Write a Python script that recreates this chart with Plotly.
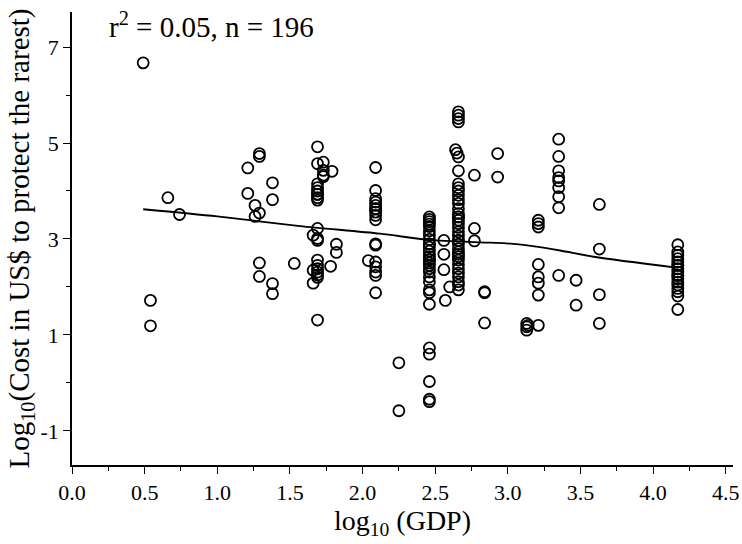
import plotly.graph_objects as go

# log10(GDP) of each record (x) and log10(cost) (y)
gdp_log = (
    [0.49, 0.54, 0.54, 0.66, 0.74]
    + [1.21, 1.21, 1.29, 1.29, 1.29, 1.29, 1.29, 1.26, 1.26, 1.38, 1.38, 1.38, 1.38, 1.53]
    + [1.69] * 19
    + [1.66, 1.66, 1.66, 1.73, 1.73, 1.73, 1.73, 1.79, 1.78, 1.82, 1.82]
    + [2.09] * 17 + [2.04, 2.25, 2.25]
    + [2.46] * 30
    + [2.56, 2.56, 2.56, 2.60, 2.57]
    + [2.66, 2.66, 2.66, 2.66, 2.64, 2.65, 2.66] + [2.66] * 31
    + [2.77, 2.77, 2.77, 2.84, 2.84, 2.84, 2.93, 2.93]
    + [3.13, 3.13, 3.13, 3.14]
    + [3.21] * 8
    + [3.35] * 9
    + [3.47, 3.47, 3.63, 3.63, 3.63, 3.63]
    + [4.17] * 18
)
cost_log = (
    [6.67, 1.72, 1.19, 3.86, 3.51]
    + [4.48, 3.95, 4.78, 4.72, 3.54, 2.50, 2.22, 3.70, 3.47, 4.17, 3.82, 2.07, 1.86, 2.49]
    + [4.92, 4.57, 4.15, 4.07, 4.00, 3.93, 3.93, 3.86, 3.81, 3.22, 3.01, 2.97,
       2.56, 2.45, 2.38, 2.31, 2.25, 2.20, 1.31]
    + [3.08, 2.35, 2.08, 4.60, 4.43, 4.33, 4.30, 4.41, 2.43, 2.89, 2.72]
    + [4.49, 4.01, 3.84, 3.77, 3.70, 3.63, 3.63, 3.56, 3.49, 3.40, 2.90, 2.87,
       2.52, 2.42, 2.31, 2.24, 1.88]
    + [2.55, 0.42, -0.58]
    + [3.46, 3.41, 3.36, 3.31, 3.26, 3.17, 3.08, 2.99, 2.90, 2.90, 2.83, 2.75,
       2.68, 2.63, 2.57, 2.57, 2.50, 2.45, 2.38, 2.31, 2.21, 2.11, 1.94, 1.88,
       1.64, 0.73, 0.60, 0.03, -0.34, -0.39]
    + [2.97, 2.68, 2.36, 2.00, 1.72]
    + [5.65, 5.58, 5.51, 5.44, 4.86, 4.79, 4.71]
    + [4.42, 4.15, 4.07, 4.00, 3.91, 3.82, 3.74, 3.63, 3.53, 3.46, 3.46, 3.39,
       3.32, 3.24, 3.15, 3.06, 2.97, 2.97, 2.89, 2.80, 2.73, 2.68, 2.63, 2.56,
       2.47, 2.38, 2.29, 2.21, 2.11, 2.04, 1.94]
    + [4.33, 3.22, 2.96, 1.90, 1.88, 1.25, 4.78, 4.29]
    + [1.24, 1.17, 1.10, 1.20]
    + [3.39, 3.32, 3.25, 2.47, 2.21, 2.08, 1.83, 1.20]
    + [5.08, 4.72, 4.42, 4.28, 4.21, 4.07, 3.88, 3.65, 2.24]
    + [2.14, 1.62, 3.72, 2.79, 1.84, 1.24]
    + [2.88, 2.73, 2.66, 2.59, 2.52, 2.45, 2.45, 2.38, 2.31, 2.24, 2.24, 2.17,
       2.10, 2.04, 1.97, 1.90, 1.81, 1.53]
)

# smoothed trend line
trend_x = [0.49, 1.00, 1.57, 2.12, 2.46, 2.81, 2.99, 3.17, 3.36, 3.59, 4.17]
trend_y = [3.62, 3.47, 3.27, 3.11, 2.98, 2.93, 2.91, 2.85, 2.76, 2.63, 2.40]

x_ticks = [0.0, 0.5, 1.0, 1.5, 2.0, 2.5, 3.0, 3.5, 4.0, 4.5]
y_ticks = [-1, 1, 3, 5, 7]
y_ticktext = ["-1", "1", "3", "5", "7"]
stats_text = "r<sup>2</sup> = 0.05, n = 196"

FONT = "Liberation Serif"

fig = go.Figure()
fig.add_trace(go.Scatter(
    x=gdp_log, y=cost_log, mode="markers",
    marker=dict(symbol="circle-open", size=11, color="black",
                line=dict(color="black", width=1.8)),
    showlegend=False, hoverinfo="x+y",
))
fig.add_trace(go.Scatter(
    x=trend_x, y=trend_y, mode="lines",
    line=dict(color="black", width=1.8, shape="spline", smoothing=0.8),
    showlegend=False,
))

fig.update_layout(
    width=742, height=544,
    margin=dict(l=72, r=9, t=12, b=79, autoexpand=False),
    paper_bgcolor="white", plot_bgcolor="white",
    font=dict(family=FONT, color="black", size=22),
    xaxis=dict(
        range=[0, 4.55], tickvals=x_ticks, ticktext=[f"{v:.1f}" for v in x_ticks],
        showgrid=False, zeroline=False, showline=True, linecolor="black", linewidth=1.5,
        ticks="outside", ticklen=7, tickwidth=1.2, tickcolor="black",
        minor=dict(dtick=0.25, tick0=0, ticks="outside", ticklen=4, tickcolor="black", tickwidth=1),
        tickfont=dict(family=FONT, size=22), automargin=False,
        title=dict(text="log<sub>10</sub> (GDP)", font=dict(family=FONT, size=28), standoff=4),
    ),
    yaxis=dict(
        range=[-1.71, 7.73], tickvals=y_ticks, ticktext=y_ticktext,
        showgrid=False, zeroline=False, showline=True, linecolor="black", linewidth=1.5,
        ticks="outside", ticklen=7, tickwidth=1.2, tickcolor="black",
        minor=dict(dtick=1, tick0=0, ticks="outside", ticklen=4, tickcolor="black", tickwidth=1),
        tickfont=dict(family=FONT, size=22), automargin=False,
        title=dict(text="Log<sub>10</sub>(Cost in US$ to protect the rarest)",
                   font=dict(family=FONT, size=29), standoff=2),
    ),
    annotations=[dict(
        text=stats_text, xref="x", yref="paper", x=0.24, y=0.971,
        xanchor="left", yanchor="middle", showarrow=False,
        font=dict(family=FONT, size=29, color="black"),
    )],
)

fig.write_html("out.html")
